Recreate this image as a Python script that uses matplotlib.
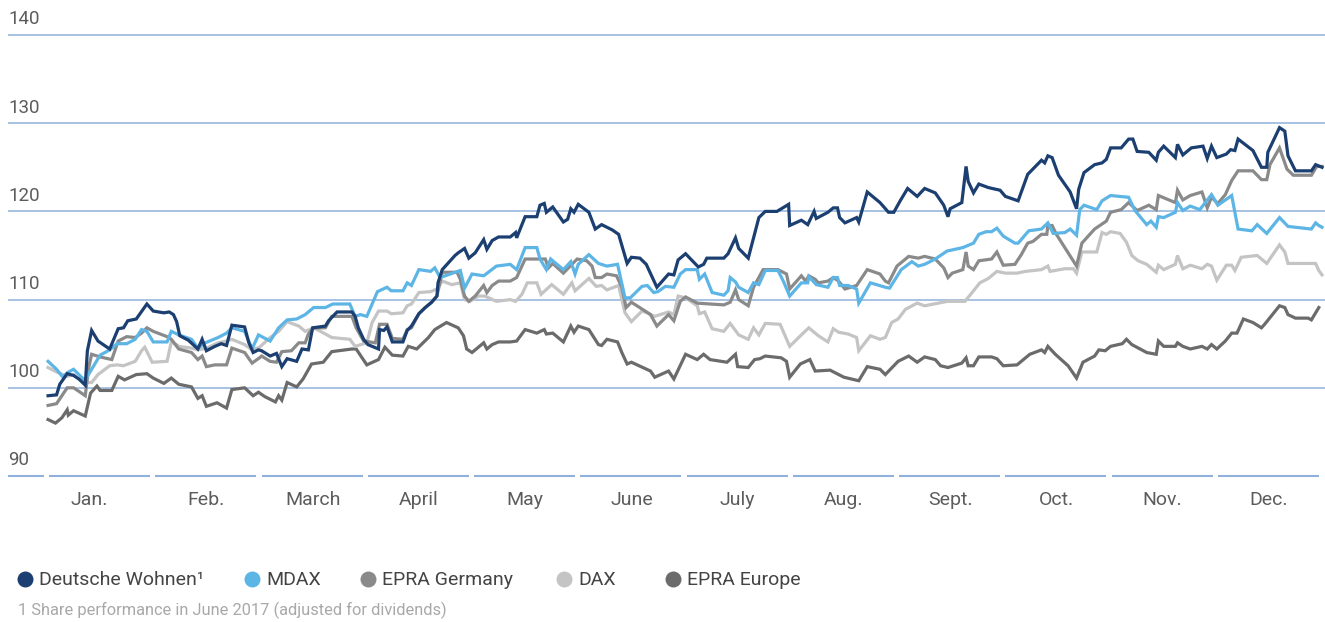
import matplotlib
matplotlib.use('Agg')
import matplotlib.pyplot as plt
from matplotlib.transforms import blended_transform_factory

plt.rcParams['font.family'] = ['Roboto', 'DejaVu Sans']

# x positions are in months (0 = start of January, 12 = end of December)
months = ['Jan.', 'Feb.', 'March', 'April', 'May', 'June', 'July',
          'Aug.', 'Sept.', 'Oct.', 'Nov.', 'Dec.']
month_label_pos = [0.4, 1.5, 2.5, 3.5, 4.5, 5.5, 6.5, 7.5, 8.5, 9.5, 10.5, 11.5]
y_ticks = [90, 100, 110, 120, 130, 140]

dw_x = [0.01, 0.09, 0.12, 0.19, 0.25, 0.30, 0.36, 0.38, 0.42, 0.48, 0.59, 0.67, 0.72, 0.76, 0.84,
        0.94, 1.00, 1.10, 1.15, 1.19, 1.22, 1.25, 1.33, 1.42, 1.46, 1.50, 1.58, 1.64, 1.69, 1.74,
        1.86, 1.90, 1.94, 1.99, 2.02, 2.10, 2.16, 2.21, 2.26, 2.35, 2.40, 2.46, 2.50, 2.62, 2.65,
        2.73, 2.87, 2.90, 2.93, 2.98, 3.02, 3.12, 3.13, 3.17, 3.20, 3.25, 3.35, 3.39, 3.43, 3.50,
        3.56, 3.62, 3.67, 3.68, 3.72, 3.78, 3.84, 3.87, 3.93, 3.97, 4.03, 4.11, 4.14, 4.19, 4.25,
        4.36, 4.41, 4.42, 4.50, 4.61, 4.64, 4.68, 4.70, 4.76, 4.86, 4.90, 4.93, 4.96, 5.00, 5.10,
        5.16, 5.22, 5.32, 5.38, 5.46, 5.50, 5.58, 5.64, 5.74, 5.85, 5.90, 5.94, 6.01, 6.13, 6.18,
        6.21, 6.37, 6.41, 6.48, 6.51, 6.60, 6.70, 6.76, 6.87, 6.98, 6.99, 7.10, 7.16, 7.22, 7.24,
        7.35, 7.40, 7.44, 7.46, 7.51, 7.62, 7.64, 7.72, 7.84, 7.92, 7.97, 8.03, 8.10, 8.19, 8.26,
        8.36, 8.44, 8.48, 8.50, 8.61, 8.65, 8.67, 8.72, 8.77, 8.86, 8.97, 9.02, 9.14, 9.23, 9.36,
        9.39, 9.42, 9.46, 9.52, 9.63, 9.69, 9.71, 9.76, 9.86, 9.93, 9.97, 10.01, 10.11, 10.18, 10.22,
        10.26, 10.37, 10.44, 10.46, 10.51, 10.62, 10.64, 10.69, 10.77, 10.88, 10.92, 10.96, 11.01,
        11.10, 11.14, 11.18, 11.21, 11.35, 11.43, 11.48, 11.49, 11.60, 11.65, 11.68, 11.75, 11.90,
        11.94, 12.00]
dw_y = [99.1, 99.2, 100.4, 101.6, 101.4, 101.0, 100.3, 104.2, 106.5, 105.3, 104.4, 106.7, 106.8, 107.6, 107.8,
        109.5, 108.7, 108.5, 108.6, 108.3, 107.5, 105.9, 105.4, 104.4, 105.5, 104.2, 104.7, 105.0, 104.8, 107.1,
        106.9, 105.1, 104.0, 104.3, 104.2, 103.6, 103.9, 102.4, 103.3, 103.0, 104.4, 104.3, 106.8, 107.0, 107.6,
        108.6, 108.6, 108.1, 106.8, 105.5, 104.9, 104.4, 106.6, 106.5, 106.9, 105.2, 105.2, 106.5, 107.0, 108.4,
        109.1, 109.7, 110.4, 111.9, 113.4, 114.2, 115.0, 115.3, 115.8, 114.7, 115.3, 116.8, 115.7, 116.7, 117.1,
        117.1, 117.6, 117.0, 119.4, 119.4, 120.7, 120.9, 119.9, 120.5, 118.8, 119.1, 120.3, 119.9, 120.8, 119.9,
        118.0, 118.5, 117.9, 117.4, 114.1, 114.8, 114.7, 114.0, 111.4, 112.9, 112.8, 114.5, 115.2, 113.7, 114.0,
        114.7, 114.7, 115.2, 117.0, 115.8, 114.7, 119.3, 120.0, 120.0, 120.8, 118.4, 119.0, 118.5, 120.0, 119.2,
        119.9, 120.4, 120.4, 119.3, 118.7, 119.3, 118.8, 122.2, 121.0, 119.9, 119.9, 121.2, 122.6, 121.7, 122.6,
        122.1, 120.7, 119.4, 120.3, 121.0, 125.1, 123.4, 122.1, 123.1, 122.7, 122.4, 121.7, 121.2, 124.2, 125.8,
        125.5, 126.3, 126.1, 124.1, 122.2, 120.3, 122.5, 124.4, 125.3, 125.5, 125.9, 127.2, 127.2, 128.2, 128.2,
        126.8, 126.7, 125.8, 126.7, 127.4, 126.1, 127.6, 126.4, 127.2, 127.4, 126.0, 127.4, 126.1,
        126.5, 127.0, 126.9, 128.2, 126.9, 125.0, 125.0, 126.7, 129.5, 129.1, 126.3, 124.6, 124.6,
        125.3, 125.0]

mdax_x = [0.01, 0.09, 0.15, 0.19, 0.25, 0.30, 0.36, 0.39, 0.44, 0.50, 0.59, 0.66, 0.75, 0.83, 0.89,
          0.94, 1.00, 1.13, 1.17, 1.24, 1.36, 1.42, 1.49, 1.61, 1.69, 1.74, 1.86, 1.93, 1.99, 2.10,
          2.18, 2.26, 2.35, 2.43, 2.51, 2.62, 2.69, 2.85, 2.90, 2.95, 3.01, 3.11, 3.20, 3.24, 3.35,
          3.39, 3.43, 3.50, 3.61, 3.65, 3.70, 3.89, 3.93, 4.00, 4.11, 4.23, 4.36, 4.42, 4.50, 4.61,
          4.64, 4.70, 4.74, 4.86, 4.93, 4.97, 5.00, 5.10, 5.19, 5.27, 5.37, 5.44, 5.49, 5.60, 5.65,
          5.71, 5.75, 5.82, 5.90, 5.96, 6.01, 6.12, 6.14, 6.19, 6.26, 6.37, 6.41, 6.43, 6.48, 6.51,
          6.60, 6.65, 6.70, 6.76, 6.88, 6.93, 6.99, 7.10, 7.16, 7.17, 7.24, 7.35, 7.40, 7.44, 7.46,
          7.54, 7.62, 7.64, 7.75, 7.89, 7.93, 8.04, 8.14, 8.20, 8.26, 8.36, 8.47, 8.62, 8.72, 8.77,
          8.84, 8.89, 8.94, 9.00, 9.11, 9.14, 9.24, 9.36, 9.42, 9.47, 9.58, 9.63, 9.69, 9.72, 9.76,
          9.88, 9.93, 10.01, 10.18, 10.24, 10.35, 10.39, 10.44, 10.46, 10.51, 10.62, 10.64, 10.69, 10.76,
          10.85, 10.96, 11.02, 11.15, 11.21, 11.34, 11.39, 11.48, 11.60, 11.68, 11.75, 11.90, 11.94, 11.97,
          12.00]
mdax_y = [103.0, 102.1, 101.2, 101.7, 102.1, 101.5, 100.8, 101.5, 102.5, 103.7, 104.3, 105.0, 105.0, 105.5, 106.6,
          106.4, 105.2, 105.2, 106.4, 106.0, 105.5, 104.5, 105.1, 105.7, 106.2, 106.8, 106.4, 104.4, 106.0, 105.3,
          106.8, 107.7, 107.8, 108.3, 109.1, 109.1, 109.5, 109.5, 108.1, 108.3, 108.1, 110.9, 111.4, 111.0, 111.0,
          111.9, 111.6, 113.4, 113.2, 113.6, 112.5, 113.3, 111.3, 112.9, 112.7, 113.8, 114.0, 113.4, 115.9, 115.9,
          114.6, 113.4, 114.6, 113.4, 114.3, 112.9, 114.0, 115.1, 114.1, 113.8, 114.0, 110.2, 110.2, 111.5, 111.6,
          110.8, 110.9, 111.5, 111.4, 112.9, 113.4, 113.4, 112.3, 112.9, 110.8, 110.5, 111.0, 112.5, 112.0, 111.4,
          110.8, 111.9, 111.7, 113.3, 113.3, 112.1, 110.4, 111.9, 111.9, 112.6, 111.7, 111.4, 112.5, 112.5, 111.6,
          111.6, 111.2, 109.6, 111.9, 111.4, 111.3, 113.4, 114.3, 113.8, 114.0, 114.6, 115.5, 115.9, 116.4, 117.4,
          117.7, 117.7, 118.1, 117.2, 116.4, 116.4, 117.8, 118.0, 118.7, 117.5, 117.6, 118.0, 117.3, 120.2, 120.7,
          120.2, 121.2, 121.8, 121.6, 120.1, 118.5, 118.9, 118.2, 119.4, 119.3, 119.9, 121.0, 120.1, 120.6,
          120.2, 121.9, 120.7, 121.8, 118.0, 117.8, 118.5, 117.5, 119.3, 118.3, 118.2, 118.0, 118.7, 118.4,
          118.2]

epra_de_x = [0.01, 0.09, 0.19, 0.25, 0.30, 0.36, 0.39, 0.42, 0.50, 0.61, 0.67, 0.75, 0.83, 0.89, 0.94,
             1.00, 1.13, 1.17, 1.24, 1.36, 1.42, 1.46, 1.50, 1.58, 1.69, 1.74, 1.86, 1.93, 2.00, 2.02,
             2.10, 2.16, 2.21, 2.30, 2.37, 2.43, 2.46, 2.51, 2.62, 2.68, 2.87, 2.91, 2.98, 3.09, 3.13,
             3.20, 3.25, 3.35, 3.39, 3.43, 3.50, 3.56, 3.62, 3.67, 3.72, 3.78, 3.86, 3.89, 3.93, 3.97,
             4.03, 4.11, 4.14, 4.19, 4.25, 4.36, 4.42, 4.50, 4.69, 4.72, 4.76, 4.86, 4.94, 4.99, 5.08,
             5.13, 5.16, 5.22, 5.27, 5.36, 5.41, 5.45, 5.50, 5.63, 5.68, 5.74, 5.85, 5.90, 5.96, 6.01,
             6.12, 6.37, 6.43, 6.48, 6.51, 6.60, 6.65, 6.74, 6.88, 6.96, 6.99, 7.10, 7.14, 7.17, 7.23,
             7.26, 7.35, 7.40, 7.45, 7.51, 7.62, 7.72, 7.84, 7.89, 7.92, 8.00, 8.11, 8.20, 8.26, 8.36,
             8.44, 8.48, 8.52, 8.62, 8.65, 8.67, 8.72, 8.77, 8.89, 8.94, 9.00, 9.11, 9.17, 9.23, 9.28,
             9.36, 9.41, 9.42, 9.46, 9.50, 9.60, 9.69, 9.74, 9.86, 9.97, 10.01, 10.11, 10.18, 10.26, 10.37,
             10.44, 10.46, 10.62, 10.64, 10.69, 10.76, 10.87, 10.92, 10.96, 11.02, 11.09, 11.15, 11.21, 11.35,
             11.43, 11.48, 11.51, 11.60, 11.67, 11.73, 11.90, 11.95, 12.00]
epra_de_y = [98.0, 98.2, 100.0, 100.0, 99.6, 99.1, 102.1, 103.8, 103.5, 103.2, 105.3, 105.8, 105.7, 106.2, 106.8,
             106.4, 105.8, 105.5, 104.4, 104.0, 103.2, 103.6, 102.4, 102.6, 102.6, 104.5, 104.0, 102.8, 103.4, 103.6,
             103.0, 102.9, 104.1, 104.2, 105.1, 105.1, 106.1, 106.8, 106.8, 108.1, 108.1, 106.8, 105.3, 105.1, 107.2,
             107.2, 105.6, 105.5, 106.6, 106.8, 108.4, 109.1, 109.7, 110.4, 113.1, 113.1, 113.1, 112.3, 110.4, 109.8,
             110.4, 111.6, 110.8, 111.6, 112.1, 112.1, 112.5, 114.6, 114.6, 113.6, 114.1, 113.0, 114.0, 114.6, 114.4,
             113.8, 112.5, 112.5, 112.9, 112.7, 111.4, 109.1, 109.7, 108.7, 108.3, 107.0, 108.3, 107.6, 109.8, 110.3,
             109.6, 109.4, 109.7, 111.1, 110.0, 109.3, 111.4, 113.4, 113.4, 112.9, 111.2, 112.7, 112.1, 112.7, 112.3,
             111.9, 112.1, 112.5, 112.1, 111.2, 111.6, 113.4, 112.9, 112.1, 111.9, 113.8, 114.9, 114.7, 114.9, 114.6,
             113.6, 112.5, 113.0, 113.4, 115.4, 113.8, 113.4, 114.4, 114.6, 115.4, 113.9, 114.0, 115.1, 116.4, 116.6,
             117.4, 117.4, 118.4, 118.4, 117.4, 115.5, 113.8, 116.4, 118.0, 118.9, 119.9, 120.2, 121.0, 120.1, 120.7,
             120.2, 121.8, 121.0, 122.4, 121.3, 121.8, 122.2, 120.4, 121.6, 120.9, 121.9, 123.5, 124.6, 124.6,
             123.6, 123.6, 125.3, 127.2, 124.8, 124.1, 124.1, 125.1, 125.1]

dax_x = [0.01, 0.09, 0.19, 0.25, 0.30, 0.36, 0.42, 0.48, 0.59, 0.66, 0.72, 0.83, 0.89, 0.92, 0.99,
         1.13, 1.17, 1.22, 1.24, 1.36, 1.42, 1.50, 1.61, 1.69, 1.74, 1.86, 1.93, 2.00, 2.10, 2.18,
         2.26, 2.37, 2.43, 2.51, 2.62, 2.68, 2.85, 2.90, 3.01, 3.06, 3.12, 3.20, 3.24, 3.35, 3.39,
         3.43, 3.50, 3.61, 3.67, 3.72, 3.81, 3.89, 3.93, 3.98, 4.06, 4.12, 4.23, 4.36, 4.41, 4.47,
         4.52, 4.61, 4.65, 4.75, 4.86, 4.94, 4.97, 5.10, 5.17, 5.22, 5.27, 5.38, 5.44, 5.50, 5.60,
         5.65, 5.72, 5.85, 5.90, 5.94, 6.01, 6.12, 6.14, 6.19, 6.26, 6.37, 6.43, 6.51, 6.60, 6.65,
         6.70, 6.76, 6.90, 6.99, 7.10, 7.17, 7.26, 7.35, 7.40, 7.45, 7.54, 7.62, 7.64, 7.75, 7.84,
         7.89, 7.95, 8.01, 8.08, 8.19, 8.26, 8.39, 8.47, 8.64, 8.72, 8.78, 8.86, 8.94, 9.02, 9.13,
         9.21, 9.36, 9.42, 9.44, 9.58, 9.66, 9.69, 9.74, 9.88, 9.93, 9.97, 10.01, 10.10, 10.16, 10.21,
         10.27, 10.35, 10.44, 10.46, 10.51, 10.62, 10.64, 10.69, 10.76, 10.87, 10.92, 10.96, 11.01, 11.10,
         11.15, 11.18, 11.24, 11.39, 11.48, 11.60, 11.65, 11.68, 11.75, 11.94, 11.97, 12.00]
dax_y = [102.3, 101.8, 101.3, 101.5, 101.0, 100.6, 100.6, 101.5, 102.5, 102.6, 102.5, 103.0, 104.2, 104.6, 102.9,
         103.0, 105.2, 104.9, 104.7, 104.5, 104.3, 104.5, 105.1, 105.3, 105.5, 104.9, 104.3, 104.6, 105.7, 106.4,
         107.5, 107.0, 106.4, 106.8, 106.1, 105.7, 105.5, 104.7, 105.1, 107.4, 108.7, 108.7, 108.4, 108.5, 109.3,
         109.5, 110.8, 110.9, 111.2, 112.1, 111.7, 111.9, 110.0, 109.8, 110.4, 110.4, 109.8, 110.0, 109.8, 110.6,
         111.9, 111.9, 110.6, 111.7, 110.6, 111.9, 111.0, 112.4, 111.5, 111.6, 111.1, 111.6, 108.5, 107.5, 108.7,
         108.5, 108.1, 108.6, 108.3, 110.4, 110.2, 109.3, 108.4, 108.6, 106.7, 106.4, 107.3, 106.0, 105.5, 106.8,
         106.0, 107.3, 107.2, 104.7, 106.0, 106.8, 105.9, 105.2, 106.7, 106.3, 106.1, 105.7, 104.2, 105.9, 105.5,
         105.7, 107.4, 107.8, 108.9, 109.6, 109.3, 109.6, 109.8, 109.8, 111.0, 111.9, 112.4, 113.2, 113.0, 113.0,
         113.2, 113.4, 113.8, 113.2, 113.5, 113.5, 113.0, 115.4, 115.4, 117.6, 117.4, 117.7, 117.5, 116.5, 115.0,
         114.4, 114.0, 113.1, 113.9, 113.4, 114.0, 115.0, 113.5, 113.9, 113.5, 114.0, 113.8, 112.2, 113.9,
         113.9, 113.3, 114.8, 115.0, 114.1, 116.2, 115.4, 114.1, 114.1, 114.1, 113.3, 112.8]

epra_eu_x = [0.01, 0.08, 0.14, 0.19, 0.20, 0.25, 0.36, 0.41, 0.47, 0.50, 0.61, 0.67, 0.73, 0.84, 0.94,
             1.00, 1.10, 1.17, 1.24, 1.36, 1.42, 1.46, 1.50, 1.60, 1.69, 1.74, 1.86, 1.94, 1.99, 2.05,
             2.15, 2.18, 2.21, 2.26, 2.35, 2.41, 2.49, 2.60, 2.68, 2.87, 2.91, 3.01, 3.12, 3.18, 3.25,
             3.35, 3.40, 3.48, 3.59, 3.65, 3.76, 3.87, 3.92, 3.95, 4.00, 4.11, 4.14, 4.19, 4.25, 4.36,
             4.42, 4.50, 4.61, 4.68, 4.70, 4.76, 4.86, 4.93, 4.96, 5.00, 5.10, 5.19, 5.22, 5.27, 5.37,
             5.41, 5.46, 5.50, 5.68, 5.72, 5.85, 5.90, 6.01, 6.12, 6.18, 6.24, 6.40, 6.48, 6.50, 6.60,
             6.66, 6.71, 6.76, 6.91, 6.96, 6.99, 7.09, 7.18, 7.23, 7.37, 7.50, 7.64, 7.72, 7.84, 7.89,
             8.01, 8.11, 8.19, 8.26, 8.36, 8.41, 8.48, 8.61, 8.65, 8.67, 8.72, 8.77, 8.89, 8.94, 9.00,
             9.13, 9.19, 9.25, 9.36, 9.39, 9.42, 9.49, 9.61, 9.69, 9.75, 9.86, 9.90, 9.96, 10.01, 10.12,
             10.16, 10.21, 10.35, 10.44, 10.46, 10.51, 10.62, 10.64, 10.69, 10.76, 10.87, 10.92, 10.96, 11.01,
             11.09, 11.15, 11.20, 11.26, 11.35, 11.43, 11.46, 11.60, 11.65, 11.68, 11.75, 11.87, 11.90, 11.97]
epra_eu_y = [96.4, 96.0, 96.6, 97.5, 96.9, 97.4, 96.8, 99.4, 100.2, 99.7, 99.7, 101.3, 100.9, 101.5, 101.6,
             101.1, 100.5, 101.1, 100.4, 100.1, 98.8, 99.1, 97.9, 98.3, 97.7, 99.8, 100.0, 99.1, 99.5, 99.0,
             98.4, 99.1, 98.6, 100.6, 100.1, 101.0, 102.7, 102.9, 104.1, 104.4, 104.4, 102.6, 103.2, 104.6, 103.7,
             103.6, 104.7, 104.4, 105.7, 106.6, 107.4, 106.8, 105.9, 104.4, 104.0, 105.1, 104.4, 104.9, 105.2, 105.2,
             105.3, 106.6, 106.2, 106.6, 106.1, 106.2, 105.2, 107.0, 106.3, 107.0, 106.6, 104.9, 104.8, 105.5, 105.2,
             104.0, 102.7, 102.9, 101.9, 101.2, 101.9, 101.0, 103.8, 103.2, 103.8, 103.2, 102.9, 103.8, 102.4, 102.3,
             103.2, 103.3, 103.6, 103.4, 103.0, 101.2, 102.7, 103.2, 101.9, 102.0, 101.2, 100.8, 102.4, 102.1, 101.5,
             103.0, 103.6, 102.9, 103.5, 103.2, 102.5, 102.3, 102.8, 103.4, 102.5, 102.5, 103.5, 103.5, 103.3, 102.5,
             102.6, 103.2, 103.8, 104.3, 104.0, 104.7, 103.8, 102.5, 101.1, 102.9, 103.6, 104.3, 104.2, 104.7, 105.0,
             105.5, 104.9, 104.0, 103.8, 105.3, 104.7, 104.7, 105.1, 104.7, 104.4, 104.7, 104.4, 104.9, 104.4,
             105.3, 106.2, 106.2, 107.8, 107.4, 106.8, 107.2, 109.3, 109.1, 108.3, 107.9, 107.9, 107.7, 109.1]

series = [
    ('EPRA Europe', epra_eu_x, epra_eu_y, '#6b6b6b'),
    ('DAX', dax_x, dax_y, '#c4c4c4'),
    ('EPRA Germany', epra_de_x, epra_de_y, '#8a8a8a'),
    ('MDAX', mdax_x, mdax_y, '#5db5e6'),
    ('Deutsche Wohnen\u00b9', dw_x, dw_y, '#1c3f72'),
]
legend_order = [4, 3, 2, 1, 0]

W, H = 1325, 622
fig = plt.figure(figsize=(W / 100, H / 100), dpi=100)
ax = fig.add_axes([8 / W, (H - 476) / H, 1317 / W, 468 / H])
month_px = 106.25
ax.set_xlim(-39 / month_px, 12 + 3 / month_px)
ax.set_ylim(90, 140 + 27 / 8.82)
ax.axis('off')

grid_col = '#8fb1db'
text_col = '#5c5c5c'
trans = blended_transform_factory(ax.transAxes, ax.transData)

for v in y_ticks[1:]:
    ax.axhline(v, color=grid_col, lw=1.1, zorder=1)

# segmented baseline at 90, one piece per month
seg_start = [ax.get_xlim()[0]] + [i + 0.02 for i in range(12)]
seg_end = [-0.03] + [i + 0.97 for i in range(12)]
ax.hlines([y_ticks[0]] * len(seg_start), seg_start, seg_end, color=grid_col, lw=1.5,
          zorder=1, clip_on=False)

for v in y_ticks:
    ax.annotate(str(v), xy=(0, v), xycoords=trans, xytext=(0, 11.3),
                textcoords='offset points', ha='left', va='center',
                fontsize=13.5, color=text_col)

for pos, name in zip(month_label_pos, months):
    ax.annotate(name, xy=(pos, y_ticks[0]), xytext=(0, -17.5),
                textcoords='offset points', ha='center', va='center',
                fontsize=14, color=text_col, annotation_clip=False)

for label, xs, ys, col in series:
    ax.plot(xs, ys, color=col, lw=2.3, zorder=3, solid_joinstyle='miter')

# legend and footnote
lax = fig.add_axes([0, 0, 1, 1])
lax.set_xlim(0, W)
lax.set_ylim(H, 0)
lax.axis('off')
leg_x = [25, 252, 368, 564, 673]
for px, idx in zip(leg_x, legend_order):
    label, _, _, col = series[idx]
    lax.plot(px, 579, 'o', ms=11.5, color=col, mec='none')
    lax.text(px + 14, 580, label, ha='left', va='center', fontsize=14, color='#444444')

lax.text(18, 610, '1 Share performance in June 2017 (adjusted for dividends)',
         ha='left', va='center', fontsize=11.8, color='#a8a8a8')

fig.savefig('out.png', dpi=100)
